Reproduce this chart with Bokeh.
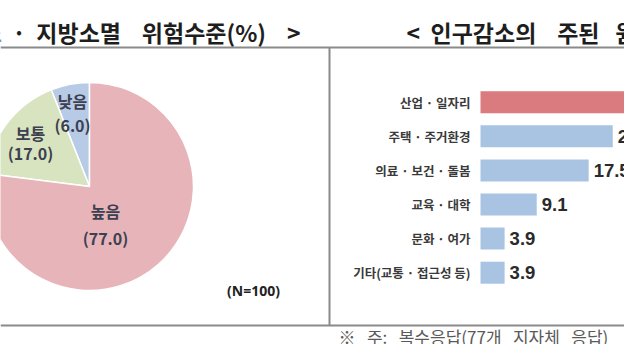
import math
from bokeh.plotting import figure
from bokeh.models import Range1d
from bokeh.core.properties import value
from bokeh.embed import file_html
from bokeh.resources import INLINE

NB = "\u00a0"

# ---------------- data ----------------
left_title = "<" + NB * 2 + "인구감소" + NB * 2 + "·" + NB * 2 + "지방소멸" + NB * 4 + "위험수준(%)" + NB * 4 + ">"
right_title = "<" + NB * 2 + "인구감소의" + NB * 4 + "주된" + NB * 3 + "원인" + NB * 2 + ">"
pie_labels = ["낮음", "보통", "높음"]
pie_values = [6.0, 17.0, 77.0]
sample_note = "(N=100)"
bar_labels = ["산업 · 일자리", "주택 · 주거환경", "의료 · 보건 · 돌봄",
              "교육 · 대학", "문화 · 여가", "기타(교통 · 접근성 등)"]
bar_values = [44.2, 21.4, 17.5, 9.1, 3.9, 3.9]
footnote = "※" + NB * 3 + "주:" + NB * 3 + "복수응답(77개" + NB * 3 + "지자체" + NB * 3 + "응답)"

# ---------------- styles / layout ----------------
KR = value("Noto Sans CJK KR")
pie_colors = ["#B7CAE6", "#D8E4BF", "#E7B5B9"]
bar_colors = ["#D97B7F"] + ["#A9C3E3"] * 5
line_gray = "#8a8a8a"

W, H = 624, 344
# data coordinates: x = picture pixel, y = 360 - picture pixel
p = figure(width=W, height=H, x_range=Range1d(0, W), y_range=Range1d(360 - H, 360),
           output_backend="svg", toolbar_location=None, min_border=0,
           x_axis_location=None, y_axis_location=None, outline_line_color=None)
p.grid.visible = False
p.background_fill_color = "white"
p.border_fill_color = "white"

# frame lines
p.segment(x0=[0, 0, 329], y0=[313, 35, 35], x1=[640, 640, 329], y1=[313, 35, 313],
          line_color=line_gray, line_width=2)

# titles
p.text(x=[300], y=[328.5], text=[left_title], text_align="right", text_baseline="middle",
       text_font=KR, text_font_style="bold", text_font_size="23px", text_color="#1e1e1e")
p.text(x=[406], y=[328.5], text=[right_title], text_align="left", text_baseline="middle",
       text_font=KR, text_font_style="bold", text_font_size="23px", text_color="#1e1e1e")

# pie
cx, cy, R = 89, 174, 104
starts, ends = [], []
acc = 90.0
for v in pie_values:
    starts.append(math.radians(acc))
    acc += v * 3.6
    ends.append(math.radians(acc))
p.wedge(x=cx, y=cy, radius=R, start_angle=starts, end_angle=ends, direction="anticlock",
        fill_color=pie_colors, line_color="white", line_width=1.5)

# pie labels (offsets from centre)
name_off = [(-17, 86), (-59, 54), (16, -24)]
val_off = [(-17, 62), (-59, 34), (16, -51)]
for lab, v, (nx, ny), (vx, vy) in zip(pie_labels, pie_values, name_off, val_off):
    p.text(x=[cx + nx], y=[cy + ny], text=[lab], text_align="center", text_baseline="middle",
           text_font=KR, text_font_style="bold", text_font_size="16px", text_color="#3c4050")
    p.text(x=[cx + vx], y=[cy + vy], text=["(%.1f)" % v], text_align="center",
           text_baseline="middle", text_font=KR, text_font_style="bold",
           text_font_size="16px", text_color="#3c4050")

p.text(x=[253], y=[70], text=[sample_note], text_align="center", text_baseline="middle",
       text_font=value("Noto Sans"), text_font_style="bold", text_font_size="14px",
       text_color="#222222")

# bar chart on its own ranges
px_per_unit = 6.18
x0_px = 480
p.extra_x_ranges = {"bv": Range1d(-x0_px / px_per_unit, (W - x0_px) / px_per_unit)}
top_c, pitch = 101.7, 34.1
p.extra_y_ranges = {"bc": Range1d((H - top_c) / pitch, (0 - top_c) / pitch)}
idx = list(range(len(bar_values)))
p.hbar(y=idx, left=0, right=bar_values, height=0.645, fill_color=bar_colors,
       line_color=None, x_range_name="bv", y_range_name="bc")
p.text(x=[-10 / px_per_unit] * len(idx), y=idx, text=bar_labels, text_align="right",
       text_baseline="middle", text_font=KR, text_font_style="bold", text_font_size="12.5px",
       text_color="#3a3a3a", x_range_name="bv", y_range_name="bc")
p.text(x=[v + 5 / px_per_unit for v in bar_values], y=idx,
       text=["%.1f" % v for v in bar_values], text_align="left", text_baseline="middle",
       text_font=value("Liberation Sans"), text_font_style="bold", text_font_size="18.5px",
       text_color="#2a2a2a", x_range_name="bv", y_range_name="bc")

# footnote
p.text(x=[338], y=[24.5], text=[footnote], text_align="left", text_baseline="middle",
       text_font=KR, text_font_size="17px", text_color="#5a5a5a")

open("out.html", "w").write(file_html(p, INLINE))
